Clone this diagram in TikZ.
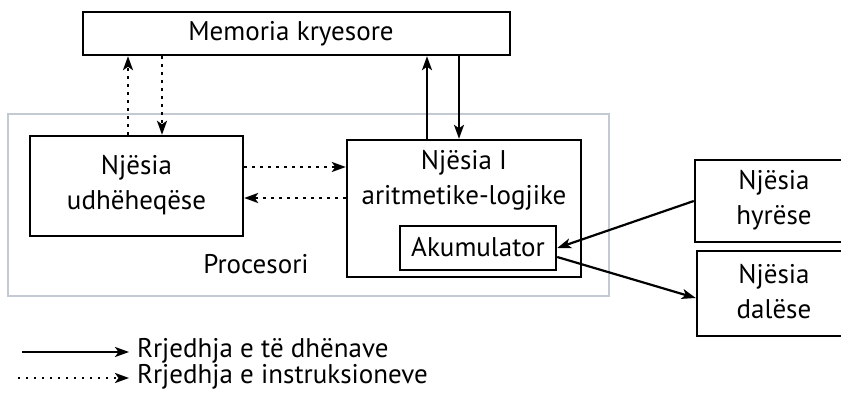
\documentclass[tikz,border=0pt]{standalone}
\usepackage{fontspec}
\setmainfont{PT Sans}
\usetikzlibrary{arrows.meta}
\definecolor{procgray}{RGB}{196,202,212}
\tikzset{
  box/.style={draw, line width=2.4pt, inner sep=0pt},
  lbl/.style={font=\fontsize{27}{35}\selectfont, align=center, inner sep=0pt},
  flow/.style={line width=2.2pt, -{Stealth[length=14pt,width=10pt,inset=3.5pt]}},
  instr/.style={flow, dash pattern=on 2.4pt off 5.6pt},
}
\begin{document}
\begin{tikzpicture}[x=1pt,y=-1pt]
\useasboundingbox (0,0) rectangle (841,401);
%memoria
\node[box, minimum width=427pt, minimum height=43pt] (mem) at (296.5,33.5) {};
\node[lbl] (memtxt) at (291,34) {Memoria kryesore};
%procesori
\node[draw=procgray, line width=2pt, minimum width=601pt, minimum height=182pt] (proc) at (308.5,205) {};
\node[lbl] (proctxt) at (256,264) {Procesori};
\node[box, minimum width=213pt, minimum height=100pt] (udh) at (136.5,186) {};
\node[lbl] (udhtxt) at (136.5,185) {Njësia\\udhëheqëse};
\node[box, minimum width=234pt, minimum height=137pt] (alu) at (464,208.5) {};
\node[lbl] (alutxt) at (464,180) {Njësia I\\aritmetike-logjike};
\node[box, minimum width=156pt, minimum height=44pt] (acc) at (478,248) {};
\node[lbl] (acctxt) at (478,247) {Akumulator};
%hyrje dalje
\node[box, minimum width=158pt, minimum height=82pt] (hyr) at (774,201) {};
\node[lbl] (hyrtxt) at (774,200) {Njësia\\hyrëse};
\node[box, minimum width=154pt, minimum height=85pt] (dal) at (774,293.5) {};
\node[lbl] (daltxt) at (774,292) {Njësia\\dalëse};

\draw[instr] ([xshift=-8.5pt]udh.north) -- ([xshift=-8.5pt]udh.north |- mem.south);
\draw[instr] ([xshift=25.5pt]udh.north |- mem.south) -- ([xshift=25.5pt]udh.north);
\draw[instr] ([yshift=19pt]udh.east) -- ([yshift=19pt]udh.east -| alu.west);
\draw[instr] ([yshift=-12pt]udh.east -| alu.west) -- ([yshift=-12pt]udh.east);
\draw[flow] ([xshift=-37pt]alu.north) -- ([xshift=-37pt]alu.north |- mem.south);
\draw[flow] ([xshift=-5pt]alu.north |- mem.south) -- ([xshift=-5pt]alu.north);
\draw[flow] (hyr.west) -- (acc.east);
\draw[flow] ([yshift=-9pt]acc.east) -- ([yshift=-4.5pt]dal.west);
%legjenda
\coordinate (l1a) at (22,352);
\coordinate (l1b) at (129,352);
\coordinate (l2a) at (18,378);
\coordinate (l2b) at (129,378);
\draw[flow] (l1a) -- (l1b);
\draw[instr] (l2a) -- (l2b);
\node[lbl, anchor=west] (leg1) at (137,351) {Rrjedhja e të dhënave};
\node[lbl, anchor=west] (leg2) at (137,377) {Rrjedhja e instruksioneve};
\end{tikzpicture}
\end{document}
